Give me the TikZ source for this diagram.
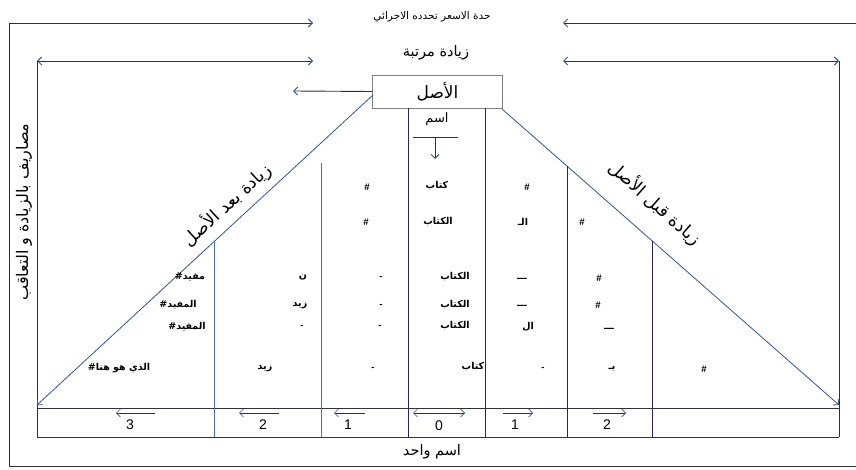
\documentclass[tikz,border=0pt]{standalone}
\usepackage{fontspec}
\setmainfont{Liberation Sans}
\newfontfamily\ar[Script=Arabic]{DejaVu Sans}
\TeXXeTstate=1
\usetikzlibrary{arrows.meta}
\newcommand{\AR}[1]{{\ar\beginR #1\endR}}
\definecolor{frm}{HTML}{303040}
\definecolor{dblue}{HTML}{2F5597}
\definecolor{lblue}{HTML}{4A6FB5}
\definecolor{boxc}{HTML}{808080}
\tikzset{
  frame/.style={draw=frm, line width=0.9pt},
  col/.style={draw=frm!80!blue, line width=0.8pt},
  colb/.style={draw=lblue, line width=0.8pt},
  diag/.style={draw=dblue, line width=0.8pt},
  tip/.style={-{Straight Barb[length=4pt,width=8pt,color=dblue]}},
  tips/.style={{Straight Barb[length=4pt,width=8pt,color=dblue]}-{Straight Barb[length=4pt,width=8pt,color=dblue]}},
  cell/.style={font=\bfseries\fontsize{9.5}{11}\selectfont, inner sep=0pt},
  num/.style={font=\fontsize{14}{16}\selectfont, inner sep=0pt},
  lab/.style={inner sep=0pt}
}
\begin{document}
\begin{tikzpicture}[x=1pt,y=-1pt]
\useasboundingbox (0,0) rectangle (856,470);
% outer frame
\coordinate (tl) at (9,23); \coordinate (ta) at (313,23);
\coordinate (tb) at (563,23); \coordinate (tr) at (856,23);
\coordinate (bl) at (9,466); \coordinate (br) at (856,466);
\draw[frame] (bl) -- (tl);
\draw[frame, tip] (tl) -- (ta);
\draw[frame, tip] (tr) -- (tb);
\draw[frame] (bl) -- (br);
\node[lab, font=\fontsize{10.5}{12}\selectfont] (ttop) at (432,17) {\AR{حدة الاسعر تحدده الاجرائي}};
% second frame
\coordinate (sl) at (37,61); \coordinate (sa) at (313,61);
\coordinate (sb) at (563,61); \coordinate (sr) at (839,61);
\coordinate (sl2) at (37,437); \coordinate (sr2) at (839,437);
\draw[frame, tips] (sl) -- (sa);
\draw[frame, tips] (sb) -- (sr);
\draw[frame] (sl) -- (sl2);
\draw[frame] (sr) -- (sr2);
\node[lab, font=\fontsize{14.5}{16}\selectfont] (tsec) at (436,53) {\AR{زيادة مرتبة}};
% box
\node[draw=boxc, line width=0.9pt, minimum width=130pt, minimum height=33pt, inner sep=0pt,
      font=\fontsize{17}{20}\selectfont] (asl) at (437.5,91.5) {\AR{الأصل}};
\coordinate (bx) at (293,91);
\draw[frame, tip] (asl.west) -- (bx);
% center columns
\coordinate (c1t) at (408,108); \coordinate (c1b) at (408,437);
\coordinate (c2t) at (485,108); \coordinate (c2b) at (485,437);
\draw[col] (c1t) -- (c1b);
\draw[col] (c2t) -- (c2b);
\node[lab, font=\fontsize{13}{15}\selectfont] (ism) at (437,119) {\AR{اسم}};
\coordinate (u1) at (413,137); \coordinate (u2) at (458,137);
\coordinate (d1) at (435,137); \coordinate (d2) at (435,159);
\draw[frame] (u1) -- (u2);
\draw[frame, tip] (d1) -- (d2);
% diagonals
\coordinate (dl0) at (373,95); \coordinate (dl1) at (37,405);
\coordinate (dr0) at (502,109); \coordinate (dr1) at (839,405);
\draw[diag, tip] (dl0) -- (dl1);
\draw[diag, tip] (dr0) -- (dr1);
\node[lab, rotate=42.7, font=\fontsize{17.5}{20}\selectfont] (ldl) at (227,205) {\AR{زيادة بعد الأصل}};
\node[lab, rotate=-41.4, font=\fontsize{17.5}{20}\selectfont] (ldr) at (655,203) {\AR{زيادة قبل الأصل}};
% horizontal rows
\coordinate (h1l) at (37,408); \coordinate (h1r) at (839,408);
\draw[frame] (h1l) -- (h1r);
\draw[frame] (sl2) -- (sr2);
% other columns
\coordinate (k1t) at (214,242); \coordinate (k1b) at (214,437);
\coordinate (k2t) at (321,163); \coordinate (k2b) at (321,437);
\coordinate (k3t) at (567,166); \coordinate (k3b) at (567,437);
\coordinate (k4t) at (652,241); \coordinate (k4b) at (652,437);
\draw[colb] (k1t) -- (k1b);
\draw[colb] (k2t) -- (k2b);
\draw[col] (k3t) -- (k3b);
\draw[col] (k4t) -- (k4b);
% left vertical label
\node[lab, rotate=90, font=\fontsize{16}{18}\selectfont] (vlab) at (24,212) {\AR{مصاريف بالزيادة و  التعاقب}};
% cells
\node[cell] (a1) at (367,187) {\#};
\node[cell] (a2) at (437,186) {\AR{كتاب}};
\node[cell] (a3) at (527,187) {\#};
\node[cell] (b1) at (366,222) {\#};
\node[cell] (b2) at (438,222) {\AR{الكتاب}};
\node[cell] (b3) at (523,222) {\AR{الـ}};
\node[cell] (b4) at (582,222) {\#};
\node[cell] (c1) at (190,277) {\AR{مفيد\#}};
\node[cell] (c2) at (303,277) {\AR{ن}};
\node[cell] (c3) at (381,278) {-};
\node[cell] (c4) at (455,277) {\AR{الكتاب}};
\node[cell] (c5) at (522,279) {\AR{ـــ}};
\node[cell] (c6) at (599,278) {\#};
\node[cell] (e1) at (178,305) {\AR{المفيد\#}};
\node[cell] (e2) at (300,305) {\AR{زيد}};
\node[cell] (e3) at (381,306) {-};
\node[cell] (e4) at (455,305) {\AR{الكتاب}};
\node[cell] (e5) at (522,306) {\AR{ـــ}};
\node[cell] (e6) at (598,305) {\#};
\node[cell] (f1) at (187,327) {\AR{المفيد\#}};
\node[cell] (f2) at (302,327) {-};
\node[cell] (f3) at (380,327) {-};
\node[cell] (f4) at (455,326) {\AR{الكتاب}};
\node[cell] (f5) at (528,327) {\AR{ال}};
\node[cell] (f6) at (609,329) {\AR{ـــ}};
\node[cell] (g1) at (119,368) {\AR{الذي هو هنا\#}};
\node[cell] (g2) at (265,368) {\AR{زيد}};
\node[cell] (g3) at (373,369) {-};
\node[cell] (g4) at (473,367) {\AR{كتاب}};
\node[cell] (g5) at (543,369) {-};
\node[cell] (g6) at (612,369) {\AR{بـ}};
\node[cell] (g7) at (704,369) {\#};
% bottom arrows and numbers
\coordinate (n3a) at (155,413); \coordinate (n3b) at (116,413);
\coordinate (n2a) at (279,413); \coordinate (n2b) at (239,413);
\coordinate (n1a) at (365,413); \coordinate (n1b) at (334,413);
\coordinate (n0a) at (413,413); \coordinate (n0b) at (465,413);
\coordinate (m1a) at (503,413); \coordinate (m1b) at (533,413);
\coordinate (m2a) at (593,413); \coordinate (m2b) at (626,413);
\draw[frame, line width=0.7pt, tip] (n3a) -- (n3b);
\draw[frame, line width=0.7pt, tip] (n2a) -- (n2b);
\draw[frame, line width=0.7pt, tip] (n1a) -- (n1b);
\draw[frame, line width=0.7pt, tips] (n0a) -- (n0b);
\draw[frame, line width=0.7pt, tip] (m1a) -- (m1b);
\draw[frame, line width=0.7pt, tip] (m2a) -- (m2b);
\node[num] (z3) at (130,425) {3};
\node[num] (z2) at (263,425) {2};
\node[num] (z1) at (348,425) {1};
\node[num] (z0) at (439,426) {0};
\node[num] (y1) at (515,425) {1};
\node[num] (y2) at (607,425) {2};
\node[lab, font=\fontsize{14.5}{16}\selectfont] (wahid) at (432,452) {\AR{اسم واحد}};
\end{tikzpicture}
\end{document}
